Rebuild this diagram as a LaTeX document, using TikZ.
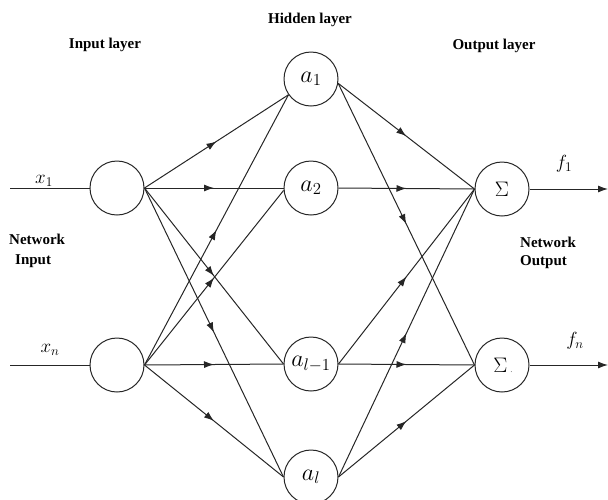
\documentclass[tikz,border=0pt]{standalone}
\usepackage{fix-cm}
\usepackage{fontspec}
\setmainfont{Liberation Serif}
\usetikzlibrary{arrows.meta,decorations.markings}
\tikzset{
  neuron/.style={circle,draw=black!85,line width=1pt,minimum size=54pt,inner sep=0pt},
  conn/.style={draw=black!85,line width=1pt,postaction={decorate},
    decoration={markings,mark=at position 0.5 with {\arrow{Latex[length=10pt,width=7pt]}}}},
  plain/.style={draw=black!85,line width=1pt},
  head/.style={font=\bfseries\fontsize{15}{18}\selectfont,inner sep=0pt},
  mlab/.style={font=\fontsize{19}{22}\selectfont,inner sep=0pt},
  hlab/.style={font=\fontsize{24}{28}\selectfont},
  slab/.style={font=\fontsize{21}{24}\selectfont}
}
\begin{document}
\begin{tikzpicture}[x=1pt,y=-1pt]
\useasboundingbox (0,0) rectangle (608,499);
% neurons
\node[neuron] (x1) at (117,188) {};
\node[neuron] (xn) at (117,365) {};
\node[neuron,hlab] (a1) at (311,79) {$a_1$};
\node[neuron,hlab] (a2) at (311,188) {$a_2$};
\node[neuron,hlab] (al1) at (311,364) {$a_{l-1}$};
\node[neuron,hlab] (al) at (311,477) {$a_l$};
\node[neuron,slab] (s1) at (502,189) {$\Sigma$};
\node[neuron,slab] (sn) at (502,365) {\hspace*{2pt}$\Sigma$\hspace{3pt}{\fontsize{9}{10}\selectfont\color{black!55}.}};
% headings
\node[head] (hh) at (310,20) {Hidden layer};
\node[head] (hi) at (105,45) {Input layer};
\node[head] (ho) at (494,46) {Output layer};
\node[head,anchor=west] (ni1) at (9,239) {Network};
\node[head,anchor=west] (ni2) at (15,261) {Input};
\node[head,anchor=west] (no1) at (520,242) {Network};
\node[head,anchor=west] (no2) at (520,262) {Output};
% input / output lines
\coordinate (in1) at (10,188);
\coordinate (inn) at (10,365);
\coordinate (out1) at (608,189);
\coordinate (outn) at (608,365);
\draw[plain] (in1) -- (x1.west);
\draw[plain] (inn) -- (xn.west);
\draw[plain,-{Latex[length=10pt,width=7pt]}] (s1.east) -- (out1);
\draw[plain,-{Latex[length=10pt,width=7pt]}] (sn.east) -- (outn);
\node[mlab] (lx1) at (44,181) {$x_1$};
\node[mlab] (lxn) at (50,350) {$x_n$};
\node[mlab] (lf1) at (564,164) {$f_1$};
\node[mlab] (lfn) at (575,341) {$f_n$};
% input -> hidden
\draw[conn] (x1.east) -- (a1.215);
\draw[conn] (x1.east) -- (a2.west);
\draw[conn] (x1.east) -- (al1.west);
\draw[conn] (x1.east) -- (al.west);
\draw[conn] (xn.east) -- (a1.215);
\draw[conn] (xn.east) -- (a2.185);
\draw[conn] (xn.east) -- (al1.west);
\draw[conn] (xn.east) -- (al.west);
% hidden -> output
\draw[conn] (a1.351) -- (s1.west);
\draw[conn] (a1.351) -- (sn.west);
\draw[conn] (a2.east) -- (s1.west);
\draw[conn] (al1.east) -- (s1.west);
\draw[conn] (al1.east) -- (sn.west);
\draw[conn] (al.east) -- (s1.west);
\draw[conn] (al.east) -- (sn.west);
\end{tikzpicture}
\end{document}
